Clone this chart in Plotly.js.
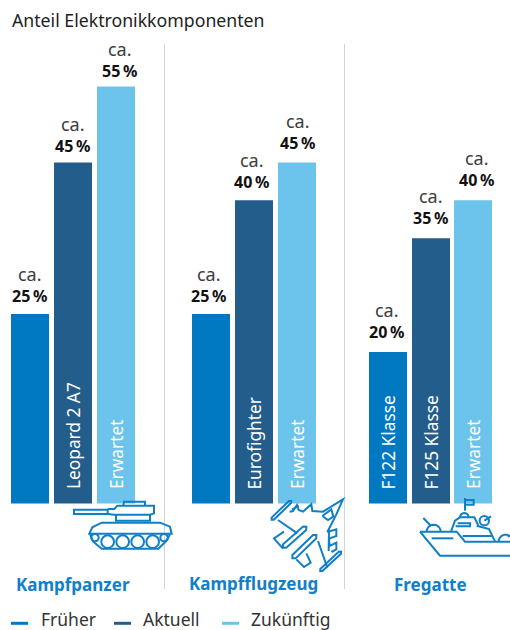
<!DOCTYPE html>
<html>
<head>
<meta charset="utf-8">
<script src="https://cdn.plot.ly/plotly-3.0.1.min.js"></script>
<style>html,body{margin:0;padding:0;background:#fff}#chart{width:510px;height:630px}</style>
</head>
<body>
<div id="chart"></div>
<script>
// Electronics share per weapon system: past, current, expected
const categories = ['Kampfpanzer', 'Kampfflugzeug', 'Fregatte'];
const seriesNames = ['Früher', 'Aktuell', 'Zukünftig'];
const frueher = [25, 25, 20];
const aktuell = [45, 40, 35];
const zukuenftig = [55, 45, 40];
const frueherLabels = ['', '', 'F122 Klasse'];
const aktuellLabels = ['Leopard 2 A7', 'Eurofighter', 'F125 Klasse'];
const zukuenftigLabels = ['Erwartet', 'Erwartet', 'Erwartet'];

const W = 510, H = 630;
const FONT = '"Noto Sans", sans-serif';
const BLUE = '#0079c2', DARK = '#235d8c', LIGHT = '#6cc3ec', ICON = '#0f7fc6';

// Axis scale in pixels per percentage point and the pixel row of zero
const pxPerPct = 7.58, zeroPx = 503.5;

// Bar centres, value-label centres and label lift, per series and group
const barX = [[30, 211, 388], [73, 254, 431], [116, 297, 473]];
const labelX = [[29, 208, 386.5], [72, 251, 430], [119, 297, 476.5]];
const labelLift = [[5, 5, 7], [3, 5, 7], [3, 6, 7]];
const colors = [BLUE, DARK, LIGHT];
const values = [frueher, aktuell, zukuenftig];
const inner = [frueherLabels, aktuellLabels, zukuenftigLabels];

const traces = values.map((v, s) => ({
  type: 'bar', name: seriesNames[s], x: barX[s], y: v, width: 38,
  marker: {color: colors[s], line: {width: 0}}, hoverinfo: 'x+y', showlegend: false
}));

const annotations = [];
const shapes = [];

// Value labels above each bar and rotated names inside
values.forEach((v, s) => v.forEach((val, g) => {
  annotations.push({
    xref: 'x', yref: 'y', x: labelX[s][g], y: val, yshift: labelLift[s][g], xanchor: 'center', yanchor: 'bottom',
    showarrow: false, align: 'center',
    text: '<span style="color:#3c3c3c;font-size:18px">ca.</span><br><b>' + val + '\u2009%</b>',
    font: {family: FONT, size: 16, color: '#111'}
  });
  if (inner[s][g]) annotations.push({
    xref: 'x', yref: 'y', x: barX[s][g], y: 0, yshift: 12, xanchor: 'center', yanchor: 'bottom',
    showarrow: false, textangle: -90, text: inner[s][g],
    font: {family: FONT, size: 17.3, color: '#fff'}
  });
}));

const paperText = (text, x, y, size, color, anchor, bold) => ({
  xref: 'paper', yref: 'paper', x: x / W, y: 1 - y / H, xanchor: anchor || 'left', yanchor: 'middle',
  showarrow: false, borderpad: 0, text: bold ? '<b>' + text + '</b>' : text,
  font: {family: FONT, size: size, color: color}
});

annotations.push(paperText('Anteil Elektronikkomponenten', 11, 20, 17.7, '#222'));
const catX = [73, 253, 430.5], catY = [584, 583, 584];
categories.forEach((c, i) => annotations.push(paperText(c, catX[i], catY[i], 17, '#1080c8', 'center', true)));

// Legend row
const legendX = [11, 114, 222], legendTextX = [40, 142, 250];
seriesNames.forEach((n, i) => {
  shapes.push({type: 'line', xref: 'paper', yref: 'paper', x0: legendX[i] / W, x1: (legendX[i] + 17) / W,
    y0: 1 - 623.3 / H, y1: 1 - 623.3 / H, line: {color: colors[i], width: 3}});
  annotations.push(paperText(n, legendTextX[i], 618.6, 17.5, '#333'));
});

// Group separators
[164.5, 344.5].forEach(x => shapes.push({type: 'line', xref: 'paper', yref: 'paper', x0: x / W, x1: x / W,
  y0: 1 - 44 / H, y1: 1 - 589 / H, line: {color: '#cdd6e0', width: 1}}));

// Outline icons: point lists in local units, placed by origin and scale
function poly(pts, ox, oy, k, closed) {
  const d = pts.map((p, i) => (i ? 'L' : 'M') + ((ox + p[0] * k) / W).toFixed(5) + ',' + (1 - (oy + p[1] * k) / H).toFixed(5)).join(' ');
  shapes.push({type: 'path', xref: 'paper', yref: 'paper', path: d + (closed ? ' Z' : ''), line: {color: ICON, width: 2}});
}
function circle(cx, cy, r, ox, oy, k) {
  shapes.push({type: 'circle', xref: 'paper', yref: 'paper',
    x0: (ox + (cx - r) * k) / W, x1: (ox + (cx + r) * k) / W,
    y0: 1 - (oy + (cy + r) * k) / H, y1: 1 - (oy + (cy - r) * k) / H, line: {color: ICON, width: 2}});
}
function capsule(a, b, w, ox, oy, k) {
  const dx = b[0] - a[0], dy = b[1] - a[1], l = Math.hypot(dx, dy);
  const nx = -dy / l * w / 2, ny = dx / l * w / 2, tx = dx / l * w / 2, ty = dy / l * w / 2;
  poly([[a[0] + nx, a[1] + ny], [b[0] + nx, b[1] + ny], [b[0] + tx, b[1] + ty], [b[0] - nx, b[1] - ny],
        [a[0] - nx, a[1] - ny], [a[0] - tx, a[1] - ty]], ox, oy, k, true);
}
function arcPts(cx, cy, r, from, to) {
  const out = [];
  for (let i = 0; i <= 12; i++) {
    const t = (from + (to - from) * i / 12) * Math.PI / 180;
    out.push([cx + r * Math.cos(t), cy + r * Math.sin(t)]);
  }
  return out;
}

// Tank
const T = [60, 490, 1 / 3];
poly([[42, 59], [143, 59], [143, 72], [42, 72]], ...T, true);
poly([[143, 57], [163, 57], [172, 47], [282, 47], [282, 70], [270, 74], [163, 74], [143, 72]], ...T, false);
poly([[190, 47], [192, 35], [255, 35], [255, 47]], ...T, false);
poly([[168, 75], [168, 92], [270, 92], [270, 74]], ...T, false);
poly([[88, 131], [97, 112], [125, 98], [300, 98], [330, 110], [335, 131], [88, 131]], ...T, true);
poly([[90, 133], [100, 155], [125, 176], [295, 176], [320, 152], [330, 133]], ...T, false);
[143, 188, 233, 278].forEach(x => circle(x, 155, 19, ...T));
circle(105, 143, 11, ...T);
circle(312, 143, 11, ...T);

// Fighter jet
const J = [268, 496, 1 / 3];
capsule([14, 68], [66, 18], 9, ...J);
capsule([50, 150], [110, 97], 14, ...J);
capsule([78, 182], [140, 122], 14, ...J);
capsule([160, 222], [216, 170], 9, ...J);
poly([[30, 72], [88, 112]], ...J);
poly([[150, 135], [178, 215]], ...J);
poly([[48, 107], [18, 127], [45, 158]], ...J);
poly([[85, 190], [108, 213], [128, 200], [115, 172]], ...J);
poly([[65, 47], [75, 45], [87, 27], [92, 42], [105, 47], [130, 25], [133, 45], [165, 47], [225, 10], [205, 55], [178, 108]], ...J);
poly([[178, 108], [205, 100], [205, 120], [183, 128], [185, 150], [205, 140], [205, 160], [190, 168]], ...J);
poly([[163, 60], [190, 40], [196, 62], [180, 72], [163, 60]], ...J);
poly([[72, 40], [92, 30]], ...J);
poly([[183, 100], [182, 165]], ...J);

// Ship
const S = [415, 494, 1 / 3];
poly([[15, 113], [125, 113], [150, 143], [285, 143]], ...S);
poly([[15, 113], [75, 185], [285, 185]], ...S);
poly([[50, 133], [115, 133]], ...S);
poly([[25, 72], [48, 96]], ...S);
poly(arcPts(56, 113, 21, 180, 360), ...S);
poly([[150, 12], [150, 50]], ...S);
poly([[150, 18], [176, 18], [176, 32], [150, 32]], ...S, true);
poly(arcPts(148, 70, 13, 180, 360), ...S);
poly([[108, 113], [120, 80], [135, 70], [178, 70], [190, 95]], ...S);
poly([[128, 88], [165, 88], [165, 97], [122, 97]], ...S);
poly([[185, 95], [222, 105], [240, 142]], ...S);
poly([[143, 126], [232, 126]], ...S);
circle(208, 80, 14, ...S);
poly([[208, 80], [228, 67]], ...S);
poly(arcPts(272, 143, 21, 180, 300), ...S);
poly([[278, 128], [285, 125]], ...S);

const layout = {
  width: W, height: H,
  margin: {l: 0, r: 0, t: 0, b: 0, pad: 0},
  paper_bgcolor: '#fff', plot_bgcolor: '#fff',
  barmode: 'overlay', showlegend: false,
  xaxis: {range: [0, W], visible: false, fixedrange: true},
  yaxis: {range: [-(H - zeroPx) / pxPerPct, zeroPx / pxPerPct], visible: false, fixedrange: true},
  annotations: annotations, shapes: shapes
};

Plotly.newPlot('chart', traces, layout, {displayModeBar: false, staticPlot: true});
</script>
</body>
</html>
